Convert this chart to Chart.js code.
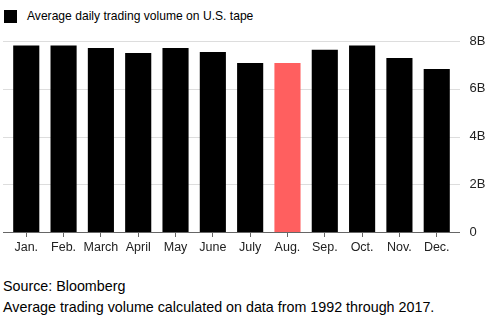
<!DOCTYPE html>
<html>
<head>
<meta charset="utf-8">
<script src="https://cdn.jsdelivr.net/npm/chart.js@4"></script>
<style>
  body { margin: 0; width: 489px; height: 322px; background: #fff; font-family: "Liberation Sans", Arial, sans-serif; color: #000; position: relative; overflow: hidden; }
  #legend { position: absolute; left: 4px; top: 9px; font-size: 12.1px; line-height: 15px; display: flex; align-items: center; }
  #legend .box { width: 13px; height: 13px; background: #000; margin-right: 10px; }
  #wrap { position: absolute; left: 0; top: 0; width: 489px; height: 262px; }
  #notes { position: absolute; left: 3px; top: 276px; font-size: 14.3px; line-height: 21px; }
</style>
</head>
<body>
<div id="legend"><div class="box"></div><span>Average daily trading volume on U.S. tape</span></div>
<div id="wrap"><canvas id="chart"></canvas></div>
<div id="notes">Source: Bloomberg<br>Average trading volume calculated on data from 1992 through 2017.</div>
<script>
// ── Dados ─────────────────────────────────────────────────────────────────────
const meses = ["Jan.", "Feb.", "March", "April", "May", "June", "July", "Aug.", "Sep.", "Oct.", "Nov.", "Dec."];
const volume = [7.81, 7.81, 7.71, 7.5, 7.71, 7.54, 7.08, 7.08, 7.63, 7.81, 7.29, 6.83]; // bilhões
const yTicks = [0, 2, 4, 6, 8];
const destaque = "Aug.";

const cores = meses.map(m => m === destaque ? "#ff5f5f" : "#000");

// ── Linhas de grade estendidas (como no original) ─────────────────────────────
const gradeExtendida = {
  id: "gradeExtendida",
  beforeDatasetsDraw(chart) {
    const { ctx, scales: { y } } = chart;
    ctx.save();
    yTicks.forEach(v => {
      const py = Math.round(y.getPixelForValue(v)) + 0.5;
      ctx.strokeStyle = v === 0 ? "#666" : "#ddd";
      ctx.lineWidth = 1;
      ctx.beginPath();
      ctx.moveTo(3, py);
      ctx.lineTo(460, py);
      ctx.stroke();
    });
    ctx.restore();
  }
};

new Chart(document.getElementById("chart"), {
  type: "bar",
  data: {
    labels: meses,
    datasets: [{
      label: "Average daily trading volume on U.S. tape",
      data: volume,
      backgroundColor: cores,
      borderWidth: 0,
      categoryPercentage: 1,
      barPercentage: 0.7
    }]
  },
  options: {
    responsive: true,
    maintainAspectRatio: false,
    animation: false,
    layout: { padding: { left: 7.6, top: 41, right: 0, bottom: 0 } },
    plugins: { legend: { display: false }, tooltip: { enabled: false } },
    scales: {
      x: {
        grid: { offset: false, drawOnChartArea: false, drawTicks: true, tickLength: 5, color: "#666" },
        border: { display: false },
        ticks: { color: "#222", font: { family: "Liberation Sans", size: 12.5 }, padding: 3, maxRotation: 0, autoSkip: false },
        afterFit: s => { s.height = 30; }
      },
      y: {
        position: "right",
        min: 0,
        max: 8,
        afterBuildTicks: s => { s.ticks = yTicks.map(v => ({ value: v })); },
        grid: { display: false, drawTicks: false },
        border: { display: false },
        ticks: {
          color: "#222",
          font: { family: "Liberation Sans", size: 13 },
          padding: 14,
          callback: v => v === 0 ? "0" : v + "B"
        },
        afterFit: s => { s.width = 33.6; }
      }
    }
  },
  plugins: [gradeExtendida]
});
</script>
</body>
</html>
